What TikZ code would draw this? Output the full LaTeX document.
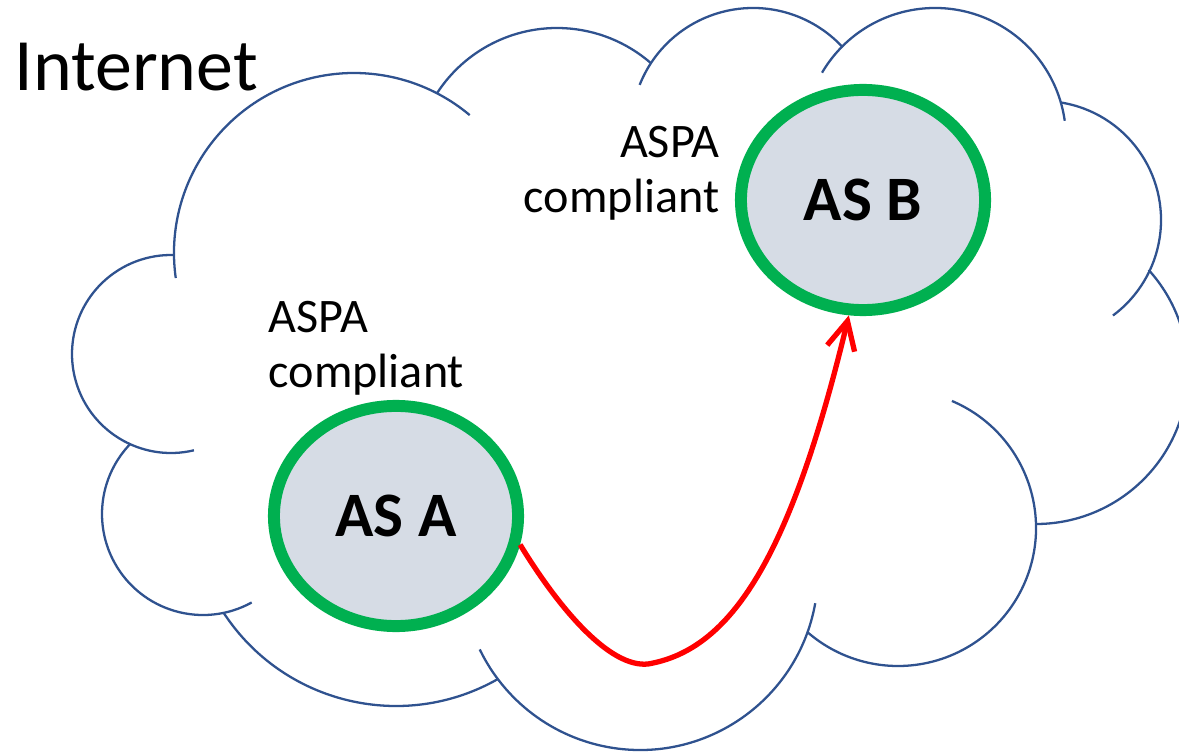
\documentclass[tikz,border=0pt]{standalone}
\usepackage{fontspec}
\setmainfont{Carlito}
\usepackage{xcolor}
\usetikzlibrary{shapes.geometric, arrows.meta}

\definecolor{cloudblue}{HTML}{2F528F}
\definecolor{asgreen}{HTML}{00B050}
\definecolor{asfill}{HTML}{D6DCE5}

\begin{document}
\begin{tikzpicture}[
    x=0.01cm, y=-0.01cm,
    cloudline/.style={draw=cloudblue, line width=0.65pt},
    asnode/.style={draw=asgreen, ellipse, line width=3.4pt, fill=asfill, minimum width=2.44cm, minimum height=2.2cm, inner sep=0pt, font=\fontsize{18pt}{21pt}\selectfont\bfseries},
    aspatext/.style={inner sep=0pt, font=\fontsize{13.7pt}{15.9pt}\selectfont},
    arrow/.style={draw=red, line width=1.5pt, -{Straight Barb[length=8pt, width=8pt]}}
]
    \useasboundingbox (0,0) rectangle (1179,752);
    \clip (0,0) rectangle (1179,752);

    % Cloud outline (one arc per bump, hooks included)
    \draw[cloudline] (171,354) ++(76.6:99) arc[start angle=76.6, end angle=272, radius=99];
    \draw[cloudline] (354,253) ++(172:180) arc[start angle=172, end angle=310, radius=180];
    \draw[cloudline] (557,171) ++(213:143) arc[start angle=213, end angle=311, radius=143];
    \draw[cloudline] (753,130) ++(201.7:122) arc[start angle=201.7, end angle=317.2, radius=122];
    \draw[cloudline] (935,139) ++(210.4:131) arc[start angle=210.4, end angle=352, radius=131];
    \draw[cloudline] (1042,220) ++(279:119) arc[start angle=279, end angle=413.4, radius=119];
    \draw[cloudline] (1036,372) ++(-42.2:152) arc[start angle=-42.2, end angle=90, radius=152];
    \draw[cloudline] (898,528) ++(-67:138) arc[start angle=-67, end angle=131, radius=138];
    \draw[cloudline] (640,572) ++(10.1:178) arc[start angle=10.1, end angle=154.2, radius=178];
    \draw[cloudline] (396,500) ++(60.3:206) arc[start angle=60.3, end angle=146.8, radius=206];
    \draw[cloudline] (203,514) ++(61.2:101) arc[start angle=61.2, end angle=224.2, radius=101];

    % Title
    \node[anchor=base west, inner sep=0pt, font=\fontsize{21pt}{25pt}\selectfont] (internet) at (14,91) {Internet};

    % Autonomous systems
    \node[asnode] (asA) at (396,516) {AS A};
    \node[asnode] (asB) at (863,200) {AS B};

    \node[aspatext, anchor=base west, align=left] (aspaA) at (268,388) {ASPA\\compliant};
    \node[aspatext, anchor=base east, align=right] (aspaB) at (720,213) {ASPA\\compliant};

    % Route
    \draw[arrow] (asA.-13) .. controls (560,610) and (610,668) .. (648,664)
        .. controls (730,650) and (790,560) .. (asB.-97);
\end{tikzpicture}
\end{document}
